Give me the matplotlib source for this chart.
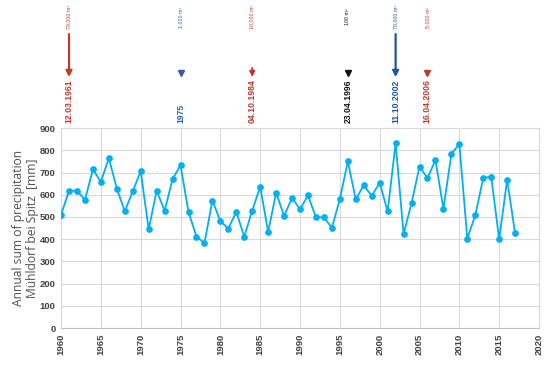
import matplotlib
matplotlib.use("Agg")
import matplotlib.pyplot as plt
import matplotlib.transforms as mtransforms

years = list(range(1960, 2018))
precip = [510, 618, 618, 577, 714, 658, 765, 628, 526, 615,
          706, 444, 618, 528, 670, 733, 522, 412, 382, 574,
          481, 448, 523, 411, 529, 636, 432, 609, 505, 586,
          535, 597, 498, 499, 451, 580, 750, 579, 643, 595,
          654, 525, 832, 423, 562, 727, 675, 756, 537, 783,
          829, 403, 508, 675, 682, 399, 667, 427]

event_x = [1961, 1975, 1984, 1996, 2002, 2006]
event_dates = ["12.03.1961", "1975", "04.10.1984", "23.04.1996", "11.10.2002", "16.04.2006"]
event_volumes = ["70,000 m³", "1,000 m³", "10,000 m³", "100 m³", "70,000 m³", "5,000 m³"]
event_colors = ["#C0392B", "#2E5CA8", "#C0392B", "#111111", "#1F55A0", "#C0392B"]
event_arrow = ["long", "tri", "short", "tri", "long", "tri"]

plt.rcParams['font.family'] = ['Liberation Sans', 'DejaVu Sans']

fig = plt.figure(figsize=(5.5, 3.67), dpi=100)
ax = fig.add_axes([0.111, 0.106, 0.869, 0.545])

ax.plot(years, precip, color="#00B0F0", lw=1.3, marker="o", ms=3.8, zorder=3)

ax.set_xlim(1960, 2020)
ax.set_ylim(0, 900)
ax.set_xticks(range(1960, 2021, 5))
ax.set_yticks(range(0, 901, 100))
ax.grid(True, color="#D9D9D9", lw=0.8)
ax.set_axisbelow(True)
for s in ax.spines.values():
    s.set_color("#D9D9D9")
    s.set_linewidth(0.8)
ax.spines['bottom'].set_color("#BFBFBF")
ax.tick_params(axis='both', length=0, labelsize=6.8, colors="#404040", pad=4)
for lab in ax.get_xticklabels():
    lab.set_rotation(90)
    lab.set_fontweight('bold')
for lab in ax.get_yticklabels():
    lab.set_fontweight('bold')

ax.set_ylabel("Annual sum of precipitation\nMühldorf bei Spitz  [mm]", fontsize=8.7,
              color="#505050", linespacing=1.1,
              family=['Open Sans', 'DejaVu Sans'])
ax.yaxis.set_label_coords(-0.046, 0.5)

trans = mtransforms.blended_transform_factory(ax.transData, ax.transAxes)
for x, d, v, c, a in zip(event_x, event_dates, event_volumes, event_colors, event_arrow):
    ax.text(x, 1.024, d, rotation=90, ha='center', va='bottom', fontsize=6.2,
            fontweight='bold', color=c, transform=trans, clip_on=False)
    ax.text(x, 1.555, v, rotation=90, ha='center', va='center', fontsize=3.8,
            color=c, transform=trans, clip_on=False)
    if a == "long":
        ax.annotate("", xy=(x, 1.255), xytext=(x, 1.47), xycoords=trans, textcoords=trans,
                    arrowprops=dict(arrowstyle="-|>,head_width=0.18,head_length=0.35",
                                    color=c, lw=1.6, shrinkA=0, shrinkB=0),
                    annotation_clip=False)
    elif a == "short":
        ax.annotate("", xy=(x, 1.255), xytext=(x, 1.30), xycoords=trans, textcoords=trans,
                    arrowprops=dict(arrowstyle="-|>,head_width=0.15,head_length=0.3",
                                    color=c, lw=1.4, shrinkA=0, shrinkB=0),
                    annotation_clip=False)
    else:
        ax.plot([x], [1.275], marker='v', ms=4, color=c, transform=trans, clip_on=False)

fig.savefig("out.png", dpi=100)
